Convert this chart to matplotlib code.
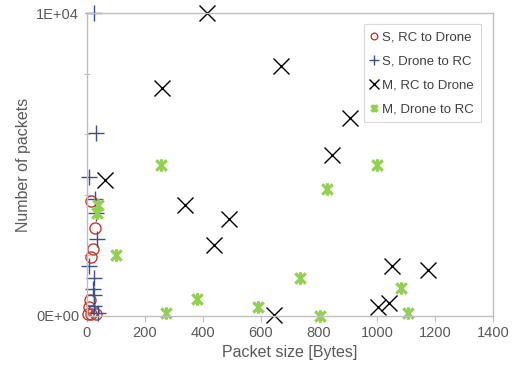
import numpy as np
import matplotlib
matplotlib.use("Agg")
import matplotlib.pyplot as plt
from matplotlib.path import Path

plt.rcParams['font.family'] = ['Liberation Sans', 'DejaVu Sans']

# S, RC to Drone
s_rc_x = [13, 29, 21, 15, 12, 9, 4, 15, 22, 30]
s_rc_y = [3780, 2900, 2200, 1940, 520, 300, 80, 60, 150, 60]
# S, Drone to RC
s_dr_x = [26, 32, 6, 29, 32, 34, 9, 26, 24, 26, 38, 20]
s_dr_y = [10000, 6050, 4600, 3850, 3400, 2550, 1650, 1250, 700, 320, 100, 900]
# M, RC to Drone
m_rc_x = [413, 670, 259, 908, 843, 62, 339, 490, 438, 644, 1003, 1041, 1053, 1176]
m_rc_y = [10000, 8260, 7540, 6550, 5300, 4490, 3670, 3200, 2350, 30, 290, 420, 1660, 1520]
# M, Drone to RC
m_dr_x = [256, 1001, 829, 38, 35, 101, 379, 274, 588, 736, 802, 1084, 1105]
m_dr_y = [4990, 4990, 4185, 3650, 3400, 2015, 560, 110, 310, 1265, 10, 915, 110]

# asterisk marker: X with a vertical bar
star = Path([(-1, -1), (1, 1), (-1, 1), (1, -1), (0, -1.2), (0, 1.2)],
            [Path.MOVETO, Path.LINETO, Path.MOVETO, Path.LINETO, Path.MOVETO, Path.LINETO])

fig = plt.figure(figsize=(5.17, 3.77), dpi=100)
ax = fig.add_axes([0.168, 0.162, 0.786, 0.803])

ax.plot(s_rc_x, s_rc_y, ls='none', marker='o', ms=8, mfc='none', mec='#c0392b', mew=1.0,
        clip_on=False, label='S, RC to Drone')
ax.plot(s_dr_x, s_dr_y, ls='none', marker='+', ms=11, mec='#3c4f8c', mew=1.0,
        clip_on=False, label='S, Drone to RC')
ax.plot(m_rc_x, m_rc_y, ls='none', marker='x', ms=11, mec='black', mew=1.0,
        clip_on=False, label='M, RC to Drone')
ax.plot(m_dr_x, m_dr_y, ls='none', marker=star, ms=9, mfc='none', mec='#92d050', mew=2.3,
        clip_on=False, label='M, Drone to RC')

ax.set_xlim(0, 1400)
ax.set_ylim(0, 10000)
ax.set_xticks(np.arange(0, 1401, 200))
ax.set_yticks(np.arange(0, 10001, 2000))
ax.set_yticklabels(['0E+00', '', '', '', '', '1E+04'])

for s in ax.spines.values():
    s.set_color('#bfbfbf')
    s.set_linewidth(1.0)
ax.tick_params(colors='#bfbfbf', labelcolor='#595959', labelsize=10.5, length=4)
ax.tick_params(axis='y', direction='inout')

ax.set_xlabel('Packet size [Bytes]', fontsize=11.5, color='#595959', labelpad=3)
ax.set_ylabel('Number of packets', fontsize=11.5, color='#595959', labelpad=4)

leg = ax.legend(loc='upper right', bbox_to_anchor=(0.985, 0.985), fontsize=9.5,
                labelspacing=0.9, handlelength=0.6, handletextpad=0.3,
                borderpad=0.5, markerscale=0.6, fancybox=False, framealpha=1)
leg.get_frame().set_edgecolor('#d9d9d9')
leg.get_frame().set_linewidth(0.8)
for t in leg.get_texts():
    t.set_color('#404040')

fig.savefig('out.png', dpi=100)
